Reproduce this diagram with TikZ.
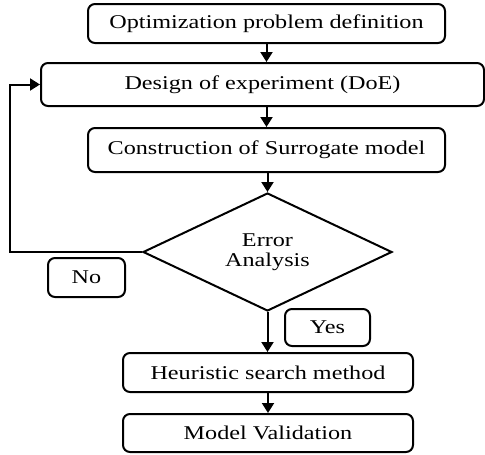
\documentclass[tikz,border=0pt]{standalone}
\usepackage{fontspec}
\setmainfont{Liberation Serif}[FakeStretch=1.24]
\usetikzlibrary{shapes.geometric,arrows.meta}
\tikzset{
  x=1pt,y=1pt,
  stepbox/.style={draw=black,line width=2pt,rounded corners=7pt,inner sep=0pt,align=center},
  decision/.style={draw=black,line width=2pt,diamond,inner sep=0pt},
  flow/.style={line width=2pt,-{Triangle[width=12pt,length=10pt]}},
  plain/.style={line width=2pt}
}
\begin{document}
\begin{tikzpicture}[font=\fontsize{19.5}{20}\selectfont]
\useasboundingbox (0,0) rectangle (485,-455);
\node[stepbox,minimum width=357pt,minimum height=39pt] (opt) at (266.5,-23.5) {Optimization problem definition};
\node[stepbox,minimum width=443pt,minimum height=43pt] (doe) at (262.5,-84.5) {Design of experiment (DoE)};
\node[stepbox,minimum width=357pt,minimum height=44pt] (sur) at (266.5,-150) {Construction of Surrogate model};
\node[decision,minimum width=249pt,minimum height=118pt] (err) at (267.5,-252) {};
\node[align=center,inner sep=0pt] (errtxt) at (267.5,-252) {Error\\Analysis};
\node[stepbox,minimum width=77pt,minimum height=39pt] (no) at (86.5,-277.5) {No};
\node[stepbox,minimum width=85pt,minimum height=37pt] (yes) at (327.5,-327.5) {Yes};
\node[stepbox,minimum width=290pt,minimum height=39pt] (heu) at (268,-372.5) {Heuristic search method};
\node[stepbox,minimum width=290pt,minimum height=38pt] (val) at (268,-433) {Model Validation};
\coordinate (c1) at (10,-252);
\coordinate (c2) at (10,-84.5);
\draw[flow] (opt.south -| 266.5,0) -- (doe.north -| 266.5,0);
\draw[flow] (doe.south -| 266.5,0) -- (sur.north);
\draw[flow] (sur.south -| err.north) -- (err.north);
\draw[flow] (err.south) -- (heu.north -| err.south);
\draw[flow] (heu.south) -- (val.north);
\draw[flow] (err.west) -- (c1) -- (c2) -- (doe.west);
\end{tikzpicture}
\end{document}
